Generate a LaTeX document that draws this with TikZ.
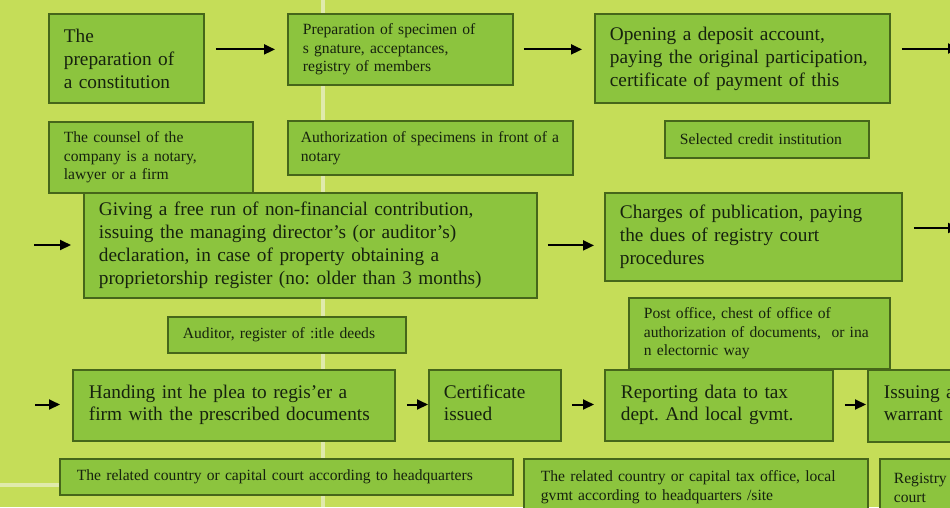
\documentclass[tikz,border=0pt]{standalone}
\usepackage{fontspec}
\setmainfont{Liberation Serif}
\usetikzlibrary{arrows.meta}
\frenchspacing

\definecolor{bgcol}{RGB}{197,221,88}
\definecolor{boxfill}{RGB}{140,196,62}
\definecolor{boxline}{RGB}{70,102,26}
\definecolor{inkcol}{RGB}{22,34,14}
\definecolor{seamcol}{RGB}{224,234,172}

\newcommand{\bigtext}{\fontsize{19.3pt}{23pt}\selectfont}
\newcommand{\rowtext}{\fontsize{19.3pt}{22pt}\selectfont}
\newcommand{\smalltext}{\fontsize{15.6pt}{18.7pt}\selectfont}

\tikzset{
  stagebox/.style={draw=boxline, fill=boxfill, line width=1.8pt,
    anchor=north west, inner xsep=15pt, inner ysep=0pt,
    align=left, text=inkcol},
  flow/.style={draw=black, line width=2pt,
    -{Triangle[length=11pt,width=10pt]}},
  seam/.style={draw=seamcol, line width=3.5pt},
}

\begin{document}
\begin{tikzpicture}[x=1pt, y=-1pt]
  % canvas
  \useasboundingbox (0,0) rectangle (950,507);
  \clip (0,0) rectangle (950,507);
  \fill[bgcol] (0,0) rectangle (950,507);

  % pale seams in the background
  \draw[seam] (323,0) -- (323,507);
  \draw[seam] (0,485) -- (59,485);

  % row 1
  \node[stagebox, minimum width=155pt, minimum height=89pt, text width=125pt, font=\bigtext]
    (b1) at (48,13) {The\\preparation of\\a constitution};
  \node[stagebox, minimum width=225pt, minimum height=71pt, text width=195pt, font=\smalltext]
    (b2) at (287,13) {Preparation of specimen of\\s gnature, acceptances,\\registry of members};
  \node[stagebox, minimum width=295pt, minimum height=89pt, text width=265pt, font=\bigtext]
    (b3) at (594,13) {Opening a deposit account,\\paying the original participation,\\certificate of payment of this};

  % notes under row 1
  \node[stagebox, minimum width=204pt, minimum height=71pt, text width=174pt, font=\smalltext]
    (n1) at (48,121) {The counsel of the\\company is a notary,\\lawyer or a firm};
  \node[stagebox, minimum width=285pt, minimum height=54pt, text width=259pt, inner xsep=13pt, font=\smalltext]
    (n2) at (287,120) {Authorization of specimens in front of a\\notary};
  \node[stagebox, minimum width=204pt, minimum height=37pt, text width=174pt, font=\smalltext]
    (n3) at (664,120) {Selected credit institution};

  % row 2
  \node[stagebox, minimum width=453pt, minimum height=105pt, text width=423pt, font=\bigtext]
    (b4) at (83,192) {Giving a free run of non-financial contribution,\\issuing the managing director's (or auditor's)\\declaration, in case of property obtaining a\\proprietorship register (no: older than 3 months)};
  \node[stagebox, minimum width=297pt, minimum height=88pt, text width=267pt, font=\bigtext]
    (b5) at (604,192) {Charges of publication, paying\\the dues of registry court\\procedures};

  % notes under row 2
  \node[stagebox, minimum width=238pt, minimum height=36pt, text width=208pt, font=\smalltext]
    (n4) at (167,316) {Auditor, register of :itle deeds};
  \node[stagebox, minimum width=261pt, minimum height=71pt, text width=231pt, font=\smalltext]
    (n5) at (628,297) {Post office, chest of office of\\authorization of documents,~ or ina\\n electornic way};

  % row 3 (text sits a little above the middle of these boxes)
  \node[stagebox, minimum width=320pt, minimum height=71pt, text width=290pt, inner xsep=16pt, font=\rowtext]
    (b6) at (72,369) {Handing int he plea to regis'er a\\firm with the prescribed documents\\[-16pt]\mbox{}};
  \node[stagebox, minimum width=132pt, minimum height=71pt, text width=102pt, font=\rowtext]
    (b7) at (428,369) {Certificate\\issued\\[-16pt]\mbox{}};
  \node[stagebox, minimum width=228pt, minimum height=71pt, text width=196pt, inner xsep=16pt, font=\rowtext]
    (b8) at (604,369) {Reporting data to tax\\dept. And local gvmt.\\[-16pt]\mbox{}};
  \node[stagebox, minimum width=133pt, minimum height=72pt, text width=101pt, inner xsep=16pt, font=\rowtext]
    (b9) at (867,369) {Issuing a\\warrant\\[-16pt]\mbox{}};

  % notes under row 3
  \node[stagebox, minimum width=453pt, minimum height=36pt, text width=419pt, inner xsep=17pt, font=\smalltext]
    (n6) at (59,458) {The related country or capital court according to headquarters};
  \node[stagebox, minimum width=344pt, minimum height=56pt, text width=310pt, inner xsep=17pt, font=\smalltext]
    (n7) at (523,458) {The related country or capital tax office, local\\gvmt according to headquarters /site};
  \node[stagebox, minimum width=121pt, minimum height=58pt, text width=93pt, inner xsep=14pt, font=\smalltext]
    (n8) at (879,458) {Registry\\court};

  % loose arrow ends
  \coordinate (out1) at (959,48.5);
  \coordinate (in2)  at (34,245);
  \coordinate (out2) at (959,228);
  \coordinate (in3)  at (35,404.5);

  % connectors
  \draw[flow, shorten <=11pt, shorten >=12pt] (b1.east |- b2.west) -- (b2.west);
  \draw[flow, shorten <=10pt, shorten >=12pt] (b2.east) -- (b2.east -| b3.west);
  \draw[flow, shorten <=11pt] (b3.east |- out1) -- (out1);

  \draw[flow, shorten >=12pt] (in2) -- (in2 -| b4.west);
  \draw[flow, shorten <=10pt, shorten >=10pt] (b4.east) -- (b4.east -| b5.west);
  \draw[flow, shorten <=11pt] (b5.east |- out2) -- (out2);

  \draw[flow, shorten >=12pt] (in3) -- (in3 -| b6.west);
  \draw[flow, shorten <=11pt] (b6.east |- in3) -- (in3 -| b7.west);
  \draw[flow, shorten <=10pt, shorten >=10pt] (b7.east |- in3) -- (in3 -| b8.west);
  \draw[flow, shorten <=11pt, shorten >=1pt] (b8.east |- in3) -- (in3 -| b9.west);
\end{tikzpicture}
\end{document}
